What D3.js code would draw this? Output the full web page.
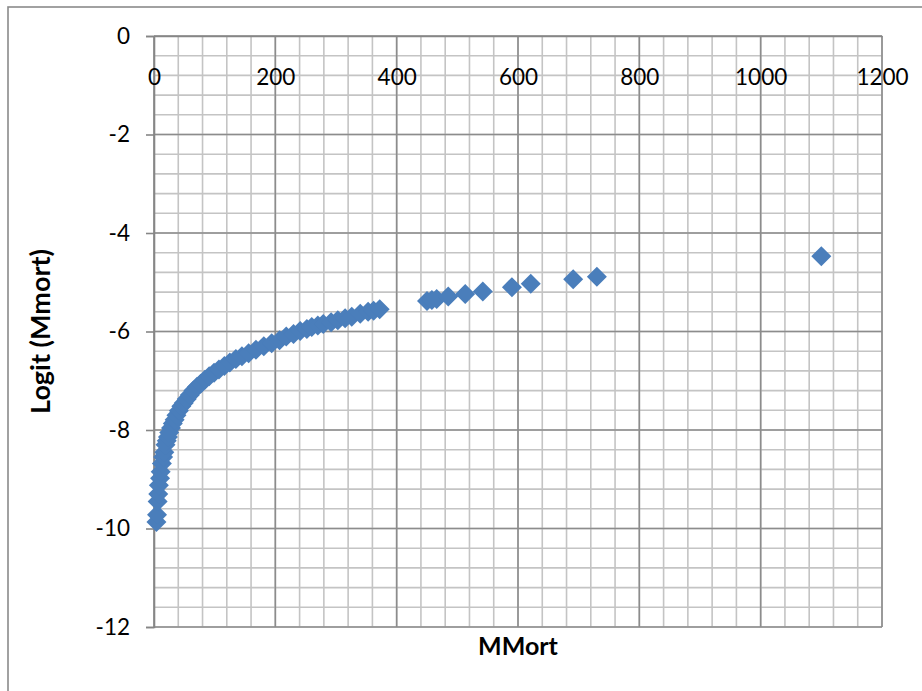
<!DOCTYPE html>
<html><head><meta charset="utf-8">
<script src="https://cdn.jsdelivr.net/npm/d3@7"></script>
<style>body{margin:0;background:#fff}svg{display:block}</style>
</head><body>
<svg id="c" width="922" height="691"></svg>
<script>
const xVals = [4,5,6,7,8,10,11,13,15,17,19,21,23,25,28,31,34,37,41,45,49,54,59,65,71,77,84,91,99,107,116,125,135,145,156,168,181,194,207,218,230,241,252,260,270,279,292,303,315,326,340,353,362,372,450,458,466,485,513,542,590,621,691,730,1100];
const yVals = [-9.87,-9.72,-9.45,-9.30,-9.12,-8.98,-8.85,-8.68,-8.55,-8.45,-8.30,-8.22,-8.14,-8.05,-7.96,-7.87,-7.79,-7.70,-7.61,-7.52,-7.45,-7.37,-7.29,-7.20,-7.12,-7.06,-6.98,-6.91,-6.84,-6.77,-6.70,-6.63,-6.56,-6.50,-6.44,-6.37,-6.30,-6.24,-6.18,-6.10,-6.05,-5.99,-5.95,-5.91,-5.88,-5.85,-5.81,-5.77,-5.73,-5.70,-5.64,-5.60,-5.58,-5.55,-5.38,-5.36,-5.34,-5.29,-5.24,-5.19,-5.10,-5.03,-4.94,-4.89,-4.47];
const xTicks = [0,200,400,600,800,1000,1200];
const yTicks = [0,-2,-4,-6,-8,-10,-12];
const xTitle = "MMort";
const yTitle = "Logit (Mmort)";

const svg = d3.select("#c");
const L = 154, R = 882, T = 36, B = 627;
const x = d3.scaleLinear().domain([0,1200]).range([L,R]);
const y = d3.scaleLinear().domain([0,-12]).range([T,B]);
const font = "Lato, 'Open Sans', sans-serif";
const fmt = d => String(d);

svg.append("rect").attr("x",8).attr("y",7).attr("width",1000).attr("height",800)
  .attr("fill","none").attr("stroke","#8a8a8a").attr("stroke-width",1.6);

const g = svg.append("g");
g.selectAll(".vmin").data(d3.range(0,1201,40)).join("line")
  .attr("x1",d=>x(d)).attr("x2",d=>x(d)).attr("y1",T).attr("y2",B)
  .attr("stroke","#c4c4c4").attr("stroke-width",1.6);
g.selectAll(".hmin").data(d3.range(0,31).map(i=>-i*0.4)).join("line")
  .attr("x1",L).attr("x2",R).attr("y1",d=>y(d)).attr("y2",d=>y(d))
  .attr("stroke","#c4c4c4").attr("stroke-width",1.6);
g.selectAll(".vmaj").data(xTicks).join("line")
  .attr("x1",d=>x(d)).attr("x2",d=>x(d)).attr("y1",T).attr("y2",B)
  .attr("stroke","#8c8c8c").attr("stroke-width",1.6);
g.selectAll(".hmaj").data(yTicks).join("line")
  .attr("x1",L).attr("x2",R).attr("y1",d=>y(d)).attr("y2",d=>y(d))
  .attr("stroke","#8c8c8c").attr("stroke-width",1.6);

const ya = d3.axisLeft(y).tickValues(yTicks).tickSize(8).tickPadding(16).tickFormat(fmt);
const yg = svg.append("g").attr("transform",`translate(${L},0)`).call(ya);
yg.select(".domain").attr("stroke","#868686").attr("stroke-width",1.6);
yg.selectAll(".tick line").attr("stroke","#868686").attr("stroke-width",1.6);
yg.selectAll("text").attr("font-family",font).attr("font-size",22.5).attr("fill","#000");

const xa = d3.axisBottom(x).tickValues(xTicks).tickSize(0).tickPadding(33).tickFormat(fmt);
const xg = svg.append("g").attr("transform",`translate(0,${y(0)})`).call(xa);
xg.select(".domain").attr("stroke","#868686").attr("stroke-width",1.6);
xg.selectAll("text").attr("font-family",font).attr("font-size",22.5).attr("fill","#000");

const pts = xVals.map((v,i)=>({x:v,y:yVals[i]}));
svg.append("g").selectAll("path").data(pts).join("path")
  .attr("transform",d=>`translate(${x(d.x)},${y(d.y)})`)
  .attr("d","M0,-10L10,0L0,10L-10,0Z")
  .attr("fill","#4a7ebb");

svg.append("text").attr("x",518).attr("y",655).attr("text-anchor","middle")
  .attr("font-family",font).attr("font-weight","bold").attr("font-size",25).text(xTitle);
svg.append("text").attr("transform",`translate(50,${(T+B)/2}) rotate(-90)`).attr("text-anchor","middle")
  .attr("font-family",font).attr("font-weight","bold").attr("font-size",27).text(yTitle);
</script>
</body></html>
